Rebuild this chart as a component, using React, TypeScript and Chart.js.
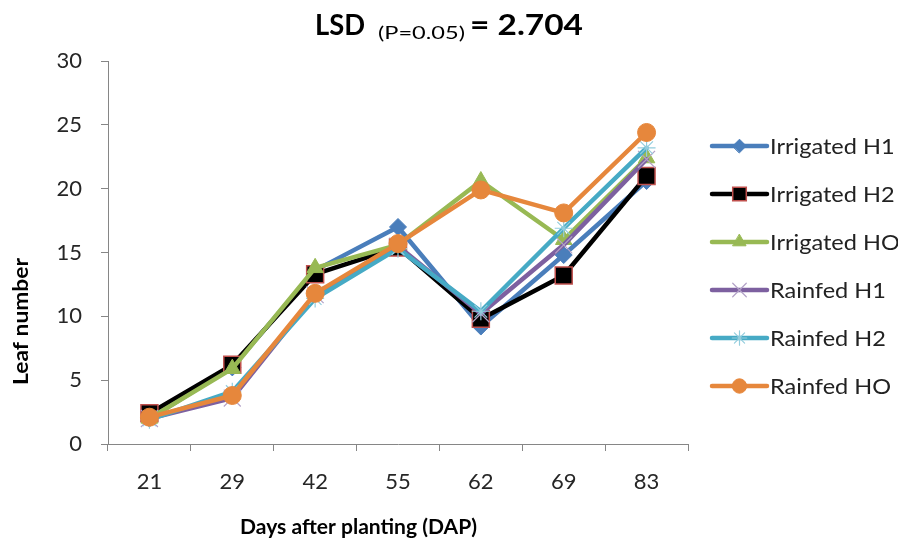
import React, { useEffect, useRef } from "react";
import { Chart, registerables } from "chart.js";
import { drawPoint } from "chart.js/helpers";

Chart.register(...registerables);

const categories = ["21", "29", "42", "55", "62", "69", "83"];
const irrigatedH1 = [2.0, 6.0, 13.6, 17.0, 9.2, 14.8, 20.6];
const irrigatedH2 = [2.4, 6.2, 13.3, 15.4, 9.8, 13.2, 21.0];
const irrigatedHO = [2.0, 5.9, 13.8, 15.6, 20.6, 16.0, 22.4];
const rainfedH1 = [2.0, 3.6, 11.7, 15.5, 10.2, 15.6, 22.3];
const rainfedH2 = [1.9, 4.1, 11.4, 15.3, 10.4, 16.9, 23.2];
const rainfedHO = [2.1, 3.8, 11.8, 15.7, 19.9, 18.1, 24.4];
const seriesNames = ["Irrigated H1", "Irrigated H2", "Irrigated HO", "Rainfed H1", "Rainfed H2", "Rainfed HO"];
const yTicks = [0, 5, 10, 15, 20, 25, 30];

const FONT = "Lato, 'Open Sans', sans-serif";

const styles = [
  { line: "#4A7EBB", pointStyle: "rectRot", radius: 8.5, fill: "#4A7EBB", stroke: "#4A7EBB", bw: 1 },
  { line: "#000000", pointStyle: "rect", radius: 12, fill: "#000000", stroke: "#C0504D", bw: 1.5 },
  { line: "#98B954", pointStyle: "triangle", radius: 9.5, fill: "#98B954", stroke: "#98B954", bw: 1 },
  { line: "#7D60A0", pointStyle: "crossRot", radius: 12, fill: "#B3A2C7", stroke: "#B3A2C7", bw: 1.2 },
  { line: "#46AAC5", pointStyle: "star", radius: 9, fill: "#93CDDD", stroke: "#93CDDD", bw: 1.2 },
  { line: "#E6873C", pointStyle: "circle", radius: 9, fill: "#E6873C", stroke: "#E6873C", bw: 1 },
];

const seriesData = [irrigatedH1, irrigatedH2, irrigatedHO, rainfedH1, rainfedH2, rainfedHO];

function stretchedText(ctx: CanvasRenderingContext2D, text: string, x: number, y: number, sx: number) {
  ctx.save();
  ctx.translate(x, y);
  ctx.scale(sx, 1);
  ctx.fillText(text, 0, 0);
  ctx.restore();
}

function fitText(ctx: CanvasRenderingContext2D, text: string, x: number, y: number, target: number) {
  const w = ctx.measureText(text).width;
  stretchedText(ctx, text, x, y, target / w);
}

const textPlugin = {
  id: "customText",
  afterDraw(chart: any) {
    const ctx = chart.ctx;
    ctx.save();
    ctx.fillStyle = "#000";
    ctx.textBaseline = "alphabetic";
    ctx.textAlign = "left";
    // Title: LSD (P=0.05) = 2.704
    ctx.font = `bold 28px ${FONT}`;
    fitText(ctx, "LSD", 307, 27, 50);
    ctx.font = `normal 18px ${FONT}`;
    fitText(ctx, "(P=0.05)", 370, 31, 87);
    ctx.font = `bold 28px ${FONT}`;
    fitText(ctx, "= 2.704", 462, 27, 113);

    // Axis titles
    ctx.font = `bold 21px ${FONT}`;
    ctx.textBaseline = "middle";
    fitText(ctx, "Days after planting (DAP)", 232, 519, 237);
    ctx.save();
    ctx.translate(13, 377);
    ctx.rotate(-Math.PI / 2);
    fitText(ctx, "Leaf number", 0, 0, 127);
    ctx.restore();

    // Legend
    const lx0 = 704;
    const lx1 = 759;
    ctx.font = `normal 21px ${FONT}`;
    ctx.textAlign = "left";
    ctx.textBaseline = "middle";
    seriesNames.forEach((name, i) => {
      const y = 138 + i * 48;
      const s = styles[i];
      ctx.strokeStyle = s.line;
      ctx.lineWidth = 4.5;
      ctx.lineCap = "round";
      ctx.beginPath();
      ctx.moveTo(lx0, y);
      ctx.lineTo(lx1, y);
      ctx.stroke();
      ctx.fillStyle = s.fill;
      ctx.strokeStyle = s.stroke;
      ctx.lineWidth = s.bw;
      drawPoint(ctx, { pointStyle: s.pointStyle, radius: s.radius * 0.8, borderWidth: s.bw, rotation: 0 }, (lx0 + lx1) / 2, y);
      ctx.fillStyle = "#222";
      stretchedText(ctx, name, 762, y + 1, 1.12);
    });
    ctx.restore();
  },
};

export default function App() {
  const ref = useRef<HTMLCanvasElement>(null);
  useEffect(() => {
    if (!ref.current) return;
    Chart.defaults.font.family = FONT;
    const chart = new Chart(ref.current, {
      type: "line",
      data: {
        labels: categories,
        datasets: seriesNames.map((name, i) => ({
          label: name,
          data: seriesData[i],
          borderColor: styles[i].line,
          backgroundColor: styles[i].fill,
          pointBackgroundColor: styles[i].fill,
          pointBorderColor: styles[i].stroke,
          pointBorderWidth: styles[i].bw,
          pointStyle: styles[i].pointStyle as any,
          pointRadius: styles[i].radius,
          pointHoverRadius: styles[i].radius,
          borderWidth: 4.5,
          borderJoinStyle: "round" as any,
          borderCapStyle: "round" as any,
          tension: 0,
          fill: false,
          order: 6 - i,
        })),
      },
      options: {
        animation: false,
        responsive: false,
        events: [],
        layout: { padding: { top: 53, right: 218, left: 0, bottom: 0 } },
        plugins: {
          legend: { display: false },
          title: { display: false },
          tooltip: { enabled: false },
        },
        scales: {
          x: {
            type: "category",
            offset: true,
            grid: { offset: true, drawOnChartArea: false, drawTicks: true, tickLength: 7, color: "#868686", lineWidth: 1 },
            border: { color: "#868686", width: 1 },
            ticks: { color: "#262626", font: { size: 22, family: FONT }, padding: 18, maxRotation: 0 },
            afterFit(scale: any) {
              scale.height = 100;
            },
          },
          y: {
            min: 0,
            max: 30,
            afterBuildTicks(scale: any) {
              scale.ticks = yTicks.map((v) => ({ value: v }));
            },
            grid: { drawOnChartArea: false, drawTicks: true, tickLength: 7, color: "#868686", lineWidth: 1 },
            border: { color: "#868686", width: 1 },
            ticks: { color: "#262626", font: { size: 22, family: FONT }, padding: 19 },
            afterFit(scale: any) {
              scale.width = 100;
            },
          },
        },
      },
      plugins: [textPlugin],
    });
    return () => chart.destroy();
  }, []);
  return (
    <div style={{ width: 898, height: 536 }}>
      <canvas ref={ref} width={898} height={536} style={{ display: "block" }} />
    </div>
  );
}
